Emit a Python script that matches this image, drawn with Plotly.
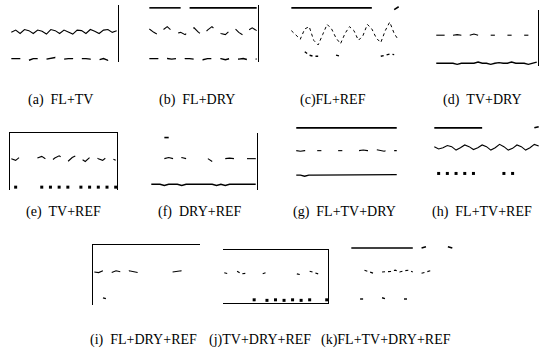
import plotly.graph_objects as go

X = list(range(25))
N = None
SP = "\u00a0"

LABELS = ["(a)" + SP * 2 + "FL+TV", "(b)" + SP * 2 + "FL+DRY", "(c)FL+REF", "(d)" + SP * 2 + "TV+DRY",
          "(e)" + SP * 2 + "TV+REF", "(f)" + SP * 2 + "DRY+REF", "(g)" + SP * 2 + "FL+TV+DRY",
          "(h)" + SP * 2 + "FL+TV+REF",
          "(i)" + SP * 2 + "FL+DRY+REF", "(j)TV+DRY+REF", "(k)FL+TV+DRY+REF"]

A_TOP = [N] * 25
A_MID = [0.52,0.56,0.50,0.57,0.55,0.50,0.56,0.54,0.49,0.57,0.55,0.50,0.56,0.53,0.49,0.56,0.55,0.50,0.57,0.54,0.50,0.56,0.57,0.52,0.55]
A_BOT = [0.06,0.06,0.05,0.06,0.03,0.06,0.06,0.07,0.05,0.06,0.08,0.06,0.05,0.06,0.06,0.04,0.06,0.06,0.05,0.06,0.04,0.06,0.03,0.06,0.05]

B_TOP = [0.95,0.95,0.95,0.95,0.95,0.95,0.95,0.95,N,0.95,0.95,0.95,0.95,0.95,0.95,0.95,0.95,0.95,0.95,0.95,0.95,0.95,0.95,0.95,0.95]
B_MID = [0.58,0.52,0.48,0.56,0.62,0.55,0.50,0.52,0.48,0.55,0.60,0.52,0.47,0.56,0.62,0.55,0.50,0.48,0.55,0.60,0.52,0.47,0.55,0.60,0.55]
B_BOT = [0.06,0.06,0.06,0.04,0.06,0.05,0.06,0.04,0.06,0.06,0.05,0.06,0.04,0.06,0.06,0.05,0.06,0.04,0.06,0.06,0.05,0.06,0.04,0.06,0.05]

C_TOP = [0.95,0.95,0.95,0.95,0.95,0.95,0.95,0.95,0.95,0.95,0.95,0.95,0.95,0.95,0.95,0.95,0.95,0.95,0.95,N,N,N,N,0.92,0.97]
C_MID = [0.55,0.48,0.40,0.58,0.62,0.38,0.30,0.48,0.66,0.58,0.42,0.32,0.50,0.62,0.55,0.38,0.46,0.66,0.58,0.42,0.34,0.55,0.70,0.50,0.38]
C_BOT = [N,N,N,0.18,0.12,0.10,0.10,N,N,N,0.12,0.10,N,N,0.10,N,0.10,N,0.10,N,0.10,0.12,0.14,0.13,N]

D_TOP = [N] * 25
D_MID = [0.55,0.55,0.55,N,0.55,0.56,0.55,N,0.55,0.57,0.55,N,N,0.55,0.55,N,N,0.55,0.55,N,N,0.55,0.55,N,0.55]
D_BOT = [0.05,0.05,0.05,0.05,0.05,0.03,0.05,0.05,0.05,0.05,0.07,0.05,0.05,0.03,0.05,0.06,0.05,0.05,0.07,0.05,0.05,0.05,0.03,0.05,0.07]

E_TOP = [N] * 25
E_MID = [0.55,0.52,0.58,0.56,N,N,0.56,0.59,0.54,0.50,0.56,0.60,0.55,0.50,0.57,0.61,0.55,0.50,0.57,0.60,0.55,0.52,0.58,0.56,0.52]
E_BOT = [N,0.05,N,N,N,N,N,0.05,N,0.05,N,0.05,N,0.05,N,N,0.05,N,0.05,N,0.05,N,0.05,N,0.05]

F_TOP = [0.92,N,N,0.92,0.92,N,0.92,N,N,N,N,N,0.92,N,N,N,N,N,N,N,N,N,N,N,N]
F_MID = [N,N,N,0.55,0.57,0.55,0.53,0.57,0.55,N,N,N,N,0.55,0.50,N,N,0.55,0.56,0.55,N,N,0.55,0.55,0.55]
F_BOT = [0.10,0.10,0.10,0.08,0.10,0.10,0.10,0.08,0.10,0.10,0.10,0.10,0.10,0.10,0.10,0.08,0.10,0.08,0.10,0.10,0.10,0.10,0.10,0.10,0.10]

G_TOP = [0.95,0.95,0.95,0.95,0.95,0.95,0.95,0.95,0.95,0.95,0.95,0.95,0.95,0.95,0.95,0.95,0.95,0.95,0.95,0.95,0.95,0.95,0.95,0.95,0.95]
G_MID = [0.55,0.54,0.55,0.55,N,0.55,0.55,N,0.55,N,0.55,0.55,N,0.55,N,0.55,0.56,0.55,0.55,0.57,0.55,0.54,0.57,0.55,0.55]
G_BOT = [0.12,0.12,0.10,0.12,0.12,0.12,0.12,0.12,0.12,0.12,0.12,0.12,0.12,0.12,0.12,0.13,0.12,0.12,0.12,0.12,0.12,0.12,0.12,0.12,0.13]

H_TOP = [0.95,0.95,0.95,0.95,0.95,0.95,0.95,0.95,0.95,0.95,0.95,0.95,N,N,N,N,N,N,N,N,N,N,N,0.95,0.97]
H_MID = [0.62,0.58,0.60,0.64,0.62,0.56,0.60,0.65,0.62,0.57,0.60,0.65,0.62,0.56,0.60,0.66,0.62,0.56,0.59,0.65,0.62,0.56,0.60,0.66,0.63]
H_BOT = [N,0.15,N,0.15,N,0.15,N,0.15,N,0.15,N,N,N,N,N,N,0.15,N,0.15,N,N,N,N,N,N]

I_TOP = [N] * 25
I_MID = [0.55,0.54,0.57,0.55,0.54,0.57,0.55,0.54,0.57,0.55,0.54,0.57,N,N,0.55,N,0.55,N,0.55,0.56,0.57,0.55,0.54,N,N]
I_BOT = [N,N,0.12,0.10,N,0.10,N,0.12,N,N,N,N,0.10,N,0.10,N,N,N,N,N,0.10,N,N,N,N]

J_TOP = [N] * 25
J_MID = [0.57,0.55,N,0.60,0.55,0.56,N,N,N,0.55,0.58,N,N,N,N,0.55,N,0.55,0.53,N,0.60,0.57,0.55,N,N]
J_BOT = [N,N,N,N,N,N,N,0.06,N,N,0.05,N,0.06,N,0.05,N,0.06,N,0.05,N,0.06,N,N,N,0.06]

K_TOP = [0.95,0.95,0.95,0.95,0.95,0.95,0.95,0.95,0.95,0.95,0.95,0.95,0.95,0.95,0.95,N,0.95,0.97,N,N,N,N,0.97,0.95,N]
K_MID = [N,0.55,N,0.58,0.55,0.53,N,0.55,0.55,0.56,0.58,0.55,0.57,0.58,0.55,N,0.53,0.55,0.57,N,0.55,N,N,0.55,N]
K_BOT = [0.12,N,0.10,0.10,N,0.10,N,0.12,0.10,N,N,N,0.10,0.10,N,N,N,N,N,N,N,0.10,N,N,N]

SERIES = [
    (A_TOP, A_MID, A_BOT), (B_TOP, B_MID, B_BOT), (C_TOP, C_MID, C_BOT), (D_TOP, D_MID, D_BOT),
    (E_TOP, E_MID, E_BOT), (F_TOP, F_MID, F_BOT), (G_TOP, G_MID, G_BOT), (H_TOP, H_MID, H_BOT),
    (I_TOP, I_MID, I_BOT), (J_TOP, J_MID, J_BOT), (K_TOP, K_MID, K_BOT),
]

W, H = 541, 358
# panel pixel boxes (x0, x1, y0, y1)
BOXES = [
    (10, 118, 5, 62), (148, 258, 5, 62), (290, 400, 5, 62), (435, 538, 10, 66),
    (10, 117, 133, 190), (150, 257, 133, 190), (295, 398, 125, 182), (433, 540, 125, 182),
    (93, 200, 245, 305), (223, 328, 250, 303), (350, 458, 245, 305),
]
LABEL_Y = [100] * 4 + [212] * 4 + [340] * 3
LABEL_X = [60, 197, 333, 482, 63, 200, 344, 482, 143, 260, 386]
FRAMES = ["r", "r", "", "r", "tlr", "r", "", "", "tl", "trb", ""]
MID_DASH = ["solid", "dash", "dot", "dash", "dash", "dash", "dash", "solid", "dash", "dot", "dot"]
BOT_DASH = ["dash", "dash", "dot", "solid", "solid", "solid", "solid", "dot", "dot", "dot", "dot"]

fig = go.Figure()
for i, ((top, mid, bot), (x0, x1, y0, y1)) in enumerate(zip(SERIES, BOXES)):
    k = "" if i == 0 else str(i + 1)
    xa, ya = "x" + k, "y" + k
    fr = FRAMES[i]
    fig.add_trace(go.Scatter(x=X, y=top, mode="lines", line=dict(color="black", width=1.6),
                             xaxis=xa, yaxis=ya, showlegend=False))
    fig.add_trace(go.Scatter(x=X, y=mid, mode="lines",
                             line=dict(color="black", width=1.0 if i == 2 else 1.1, dash=MID_DASH[i]),
                             xaxis=xa, yaxis=ya, showlegend=False))
    bmode = "markers" if i in (4, 7, 9) else "lines"
    fig.add_trace(go.Scatter(x=X, y=bot, mode=bmode, line=dict(color="black", width=1.4, dash=BOT_DASH[i]),
                             marker=dict(color="black", size=3, symbol="square"),
                             xaxis=xa, yaxis=ya, showlegend=False))
    xd = [x0 / W, x1 / W]
    yd = [1 - y1 / H, 1 - y0 / H]
    fig.layout["xaxis" + k] = dict(domain=xd, range=[-0.3, 24.3], showticklabels=False, ticks="",
                                  showgrid=False, zeroline=False,
                                  showline=("t" in fr or "b" in fr), linecolor="black", linewidth=1.2,
                                  mirror=("t" in fr and "b" in fr),
                                  side="top" if ("t" in fr and "b" not in fr) else "bottom",
                                  anchor=ya)
    fig.layout["yaxis" + k] = dict(domain=yd, range=[0, 1], showticklabels=False, ticks="",
                                  showgrid=False, zeroline=False,
                                  showline=("l" in fr or "r" in fr), linecolor="black", linewidth=1.2,
                                  mirror=("l" in fr and "r" in fr),
                                  side="right" if ("r" in fr and "l" not in fr) else "left",
                                  anchor=xa)
    fig.add_annotation(x=LABEL_X[i] / W, y=1 - LABEL_Y[i] / H, xref="paper", yref="paper",
                       xanchor="center", yanchor="middle",
                       text=LABELS[i], showarrow=False,
                       font=dict(family="Liberation Serif", size=14, color="black"))

fig.update_layout(width=W, height=H, margin=dict(l=0, r=0, t=0, b=0),
                  paper_bgcolor="white", plot_bgcolor="white")
fig.write_html("out.html", config={"displayModeBar": False},
               post_script="document.body.style.margin='0';document.body.style.overflow='hidden';")
